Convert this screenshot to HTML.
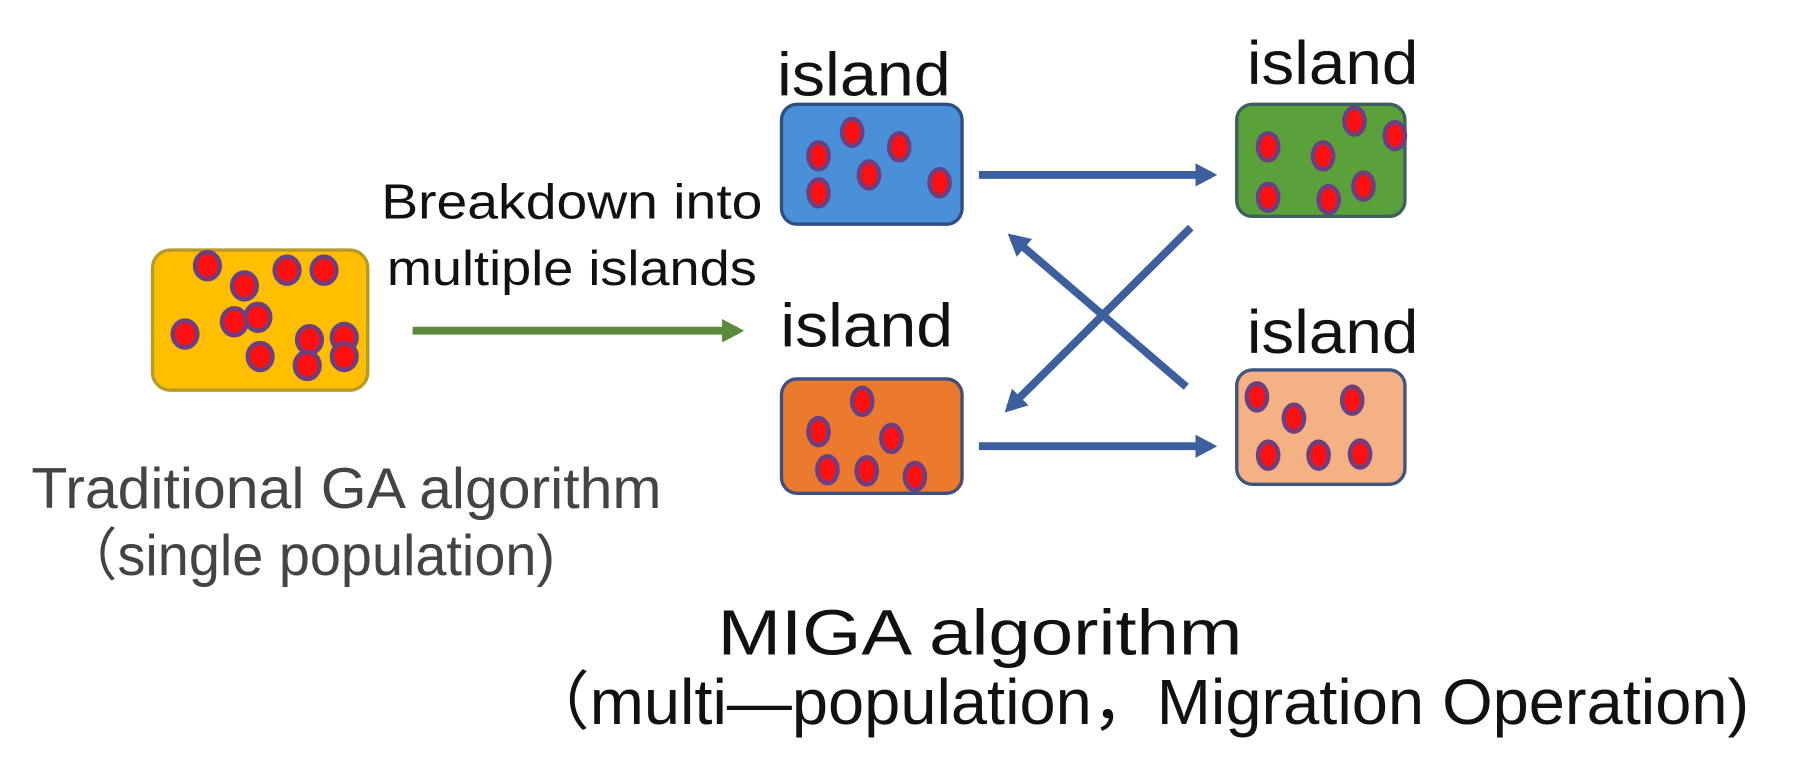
<!DOCTYPE html>
<html><head><meta charset="utf-8"><style>
html,body{margin:0;padding:0;background:#fff;}
svg{display:block;}
text{font-family:"Liberation Sans","Noto Sans CJK SC",sans-serif;}
</style></head><body>
<svg width="1794" height="759" viewBox="0 0 1600 677" preserveAspectRatio="none" xmlns="http://www.w3.org/2000/svg">
<defs>
<marker id="ab" markerWidth="4" markerHeight="4" refX="2" refY="2" orient="auto" markerUnits="strokeWidth"><path d="M0,0.5 L2.8,2 L0,3.5 Z" fill="#3d5f9e"/></marker>
<marker id="ag" markerWidth="4" markerHeight="4" refX="2" refY="2" orient="auto" markerUnits="strokeWidth"><path d="M0,0.5 L2.8,2 L0,3.5 Z" fill="#5a8a3a"/></marker>
</defs>
<rect x="136" y="223" width="192" height="125" rx="16" fill="#ffbf00" stroke="#b89a2a" stroke-width="3"/>
<rect x="697" y="93" width="161" height="107" rx="14" fill="#4a90d9" stroke="#2f4f80" stroke-width="3"/>
<rect x="1103" y="93" width="150" height="100" rx="14" fill="#5aa13c" stroke="#3d5f5e" stroke-width="3"/>
<rect x="697" y="338" width="161" height="102" rx="14" fill="#ec7a2e" stroke="#3f4f80" stroke-width="3"/>
<rect x="1103" y="330" width="150" height="102" rx="14" fill="#f4b183" stroke="#3f5580" stroke-width="3"/>
<g fill="#ff1010" stroke="#6e3f80" stroke-width="4">
<ellipse cx="185" cy="237" rx="11" ry="12"/><ellipse cx="218" cy="255" rx="11" ry="12"/><ellipse cx="256" cy="241" rx="11" ry="12"/><ellipse cx="289" cy="241" rx="11" ry="12"/><ellipse cx="165" cy="298" rx="11" ry="12"/><ellipse cx="209" cy="287" rx="11" ry="12"/><ellipse cx="230" cy="283" rx="11" ry="12"/><ellipse cx="232" cy="318" rx="11" ry="12"/><ellipse cx="276" cy="303" rx="11" ry="12"/><ellipse cx="274" cy="326" rx="11" ry="12"/><ellipse cx="307" cy="301" rx="11" ry="12"/><ellipse cx="307" cy="318" rx="11" ry="12"/>
<ellipse cx="730" cy="139" rx="9" ry="12"/><ellipse cx="760" cy="118" rx="9" ry="12"/><ellipse cx="802" cy="131" rx="9" ry="12"/><ellipse cx="775" cy="156" rx="9" ry="12"/><ellipse cx="730" cy="172" rx="9" ry="12"/><ellipse cx="838" cy="163" rx="9" ry="12"/>
<ellipse cx="1131" cy="131" rx="9" ry="12"/><ellipse cx="1180" cy="139" rx="9" ry="12"/><ellipse cx="1208" cy="108" rx="9" ry="12"/><ellipse cx="1244" cy="121" rx="9" ry="12"/><ellipse cx="1131" cy="176" rx="9" ry="12"/><ellipse cx="1185" cy="178" rx="9" ry="12"/><ellipse cx="1216" cy="166" rx="9" ry="12"/>
<ellipse cx="769" cy="358" rx="9" ry="12"/><ellipse cx="730" cy="385" rx="9" ry="12"/><ellipse cx="795" cy="391" rx="9" ry="12"/><ellipse cx="738" cy="419" rx="9" ry="12"/><ellipse cx="773" cy="420" rx="9" ry="12"/><ellipse cx="816" cy="425" rx="9" ry="12"/>
<ellipse cx="1121" cy="354" rx="9" ry="12"/><ellipse cx="1154" cy="373" rx="9" ry="12"/><ellipse cx="1206" cy="357" rx="9" ry="12"/><ellipse cx="1131" cy="406" rx="9" ry="12"/><ellipse cx="1176" cy="406" rx="9" ry="12"/><ellipse cx="1213" cy="405" rx="9" ry="12"/>
</g>
<line x1="368" y1="295" x2="658" y2="295" stroke="#5a8a3a" stroke-width="7" marker-end="url(#ag)"/>
<g stroke="#3d5f9e" stroke-width="7">
<line x1="873" y1="156" x2="1080" y2="156" marker-end="url(#ab)"/>
<line x1="873" y1="398" x2="1080" y2="398" marker-end="url(#ab)"/>
<line x1="1062" y1="203" x2="900" y2="364" marker-end="url(#ab)"/>
<line x1="1058" y1="345" x2="903" y2="212" marker-end="url(#ab)"/>
</g>
<g fill="#111" font-size="55">
<text x="693" y="85" textLength="155" lengthAdjust="spacingAndGlyphs">island</text>
<text x="1112" y="75" textLength="153" lengthAdjust="spacingAndGlyphs">island</text>
<text x="696" y="309" textLength="154" lengthAdjust="spacingAndGlyphs">island</text>
<text x="1112" y="315" textLength="153" lengthAdjust="spacingAndGlyphs">island</text>
</g>
<g fill="#111" font-size="44">
<text x="340" y="195" textLength="340" lengthAdjust="spacingAndGlyphs">Breakdown into</text>
<text x="345" y="254" textLength="330" lengthAdjust="spacingAndGlyphs">multiple islands</text>
</g>
<g fill="#444" font-size="51">
<text x="28" y="453" textLength="562" lengthAdjust="spacingAndGlyphs">Traditional GA algorithm</text>
<text x="55" y="513" textLength="440" lengthAdjust="spacingAndGlyphs">（single population)</text>
</g>
<g fill="#111" font-size="57">
<text x="640" y="584" textLength="468" lengthAdjust="spacingAndGlyphs">MIGA algorithm</text>
<text x="468" y="646" textLength="1092" lengthAdjust="spacingAndGlyphs">（multi—population，Migration Operation)</text>
</g>
</svg>
</body></html>
